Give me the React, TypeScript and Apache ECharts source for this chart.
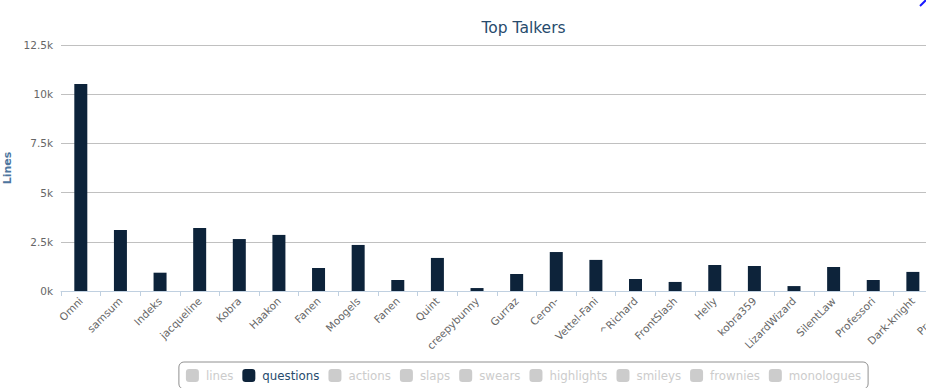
import React, { useEffect, useRef } from 'react';
import * as echarts from 'echarts';

const categories = [
  'Omni', 'samsum', 'Indeks', 'jacqueline', 'Kobra', 'Haakon', 'Fanen', 'Moogels',
  'Fanen', 'Quint', 'creepybunny', 'Gurraz', 'Ceron-', 'Vettel-Fani', '^Richard',
  'FrontSlash', 'Helly', 'kobra359', 'LizardWizard', 'SilentLaw', 'Professori',
  'Dark-knight', 'Profeetta',
];

const questions = [
  10520, 3100, 930, 3200, 2640, 2850, 1170, 2340,
  560, 1680, 150, 860, 1980, 1580, 610,
  460, 1320, 1270, 250, 1220, 560,
  970, 700,
];

const legendNames = [
  'lines', 'questions', 'actions', 'slaps', 'swears',
  'highlights', 'smileys', 'frownies', 'monologues',
];

const palette = ['#2f7ed8', '#0d233a', '#8bbc21', '#910000', '#1aadce', '#492970', '#f28f43', '#77a1e5', '#c42525'];

export default function App() {
  const ref = useRef<HTMLDivElement>(null);
  useEffect(() => {
    document.body.style.margin = '0';
    document.body.style.overflow = 'hidden';
    const chart = echarts.init(ref.current!, null, { renderer: 'svg' });
    const font = 'DejaVu Sans';
    const selected: Record<string, boolean> = {};
    legendNames.forEach((n) => { selected[n] = n === 'questions'; });
    chart.setOption({
      animation: false,
      color: palette,
      title: {
        text: 'Top Talkers',
        left: 'center',
        top: 15,
        textStyle: { color: '#274b6d', fontSize: 15.5, fontWeight: 'normal', fontFamily: font },
      },
      legend: {
        data: legendNames,
        selected,
        top: 362,
        left: 'center',
        padding: [7, 7, 7, 7],
        itemGap: 9,
        itemWidth: 13,
        itemHeight: 13,
        icon: 'roundRect',
        borderColor: '#909090',
        borderWidth: 1,
        borderRadius: 5,
        inactiveColor: '#CCC',
        textStyle: { color: '#274b6d', fontSize: 11.8, fontFamily: font, padding: [0, 0, 0, 2] },
      },
      grid: {
        left: 61,
        top: 45,
        width: 911.3,
        height: 246,
        containLabel: false,
        outerBoundsMode: 'none',
      },
      xAxis: {
        type: 'category',
        data: categories,
        boundaryGap: true,
        axisLine: { lineStyle: { color: '#C0D0E0' } },
        axisTick: { show: true, length: 5, lineStyle: { color: '#C0D0E0' } },
        axisLabel: { rotate: 45, interval: 0, color: '#666', fontSize: 10.5, fontFamily: font, margin: 8 },
        splitLine: { show: false },
      },
      yAxis: {
        type: 'value',
        min: 0,
        max: 12500,
        interval: 2500,
        name: 'Lines',
        nameLocation: 'middle',
        nameGap: 48,
        nameRotate: 90,
        nameTextStyle: { color: '#4d759e', fontWeight: 'bold', fontSize: 11, fontFamily: font },
        axisLabel: {
          formatter: (v: number) => v / 1000 + 'k',
          color: '#666',
          fontSize: 10.5,
          fontFamily: font,
          margin: 8,
        },
        splitLine: { lineStyle: { color: '#C0C0C0' } },
        axisLine: { show: false },
        axisTick: { show: false },
      },
      graphic: [
        {
          type: 'line',
          shape: { x1: 920, y1: 6, x2: 926, y2: 0 },
          style: { stroke: '#1a1aff', lineWidth: 2 },
        },
      ],
      series: legendNames.map((n) => ({
        name: n,
        type: 'bar',
        barWidth: 13,
        data: n === 'questions' ? questions : [],
      })),
    });
    return () => chart.dispose();
  }, []);
  return (
    <div style={{ position: 'fixed', left: 0, top: 0, width: 926, height: 388, overflow: 'hidden', background: '#fff' }}>
      <div ref={ref} style={{ width: 1047, height: 400 }} />
    </div>
  );
}
